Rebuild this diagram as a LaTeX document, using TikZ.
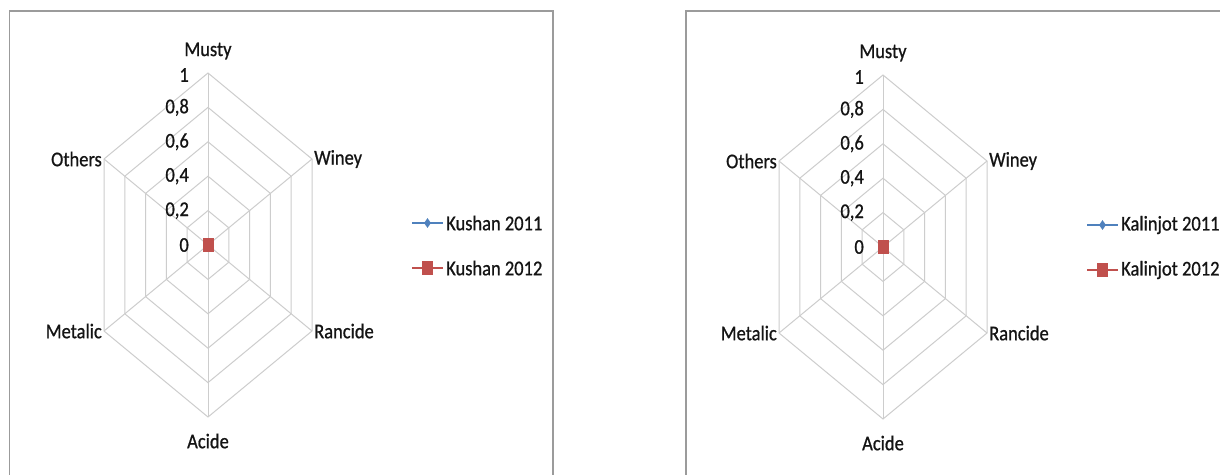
\documentclass[tikz,border=0pt]{standalone}
\usepackage{fontspec}
\setmainfont{Carlito}[FakeStretch=0.88,FakeBold=0.8]
\usetikzlibrary{shapes.geometric,calc}
\definecolor{gridgray}{RGB}{205,205,205}
\definecolor{framegray}{RGB}{155,155,155}
\definecolor{serblue}{RGB}{79,129,189}
\definecolor{serred}{RGB}{192,80,77}
\definecolor{txt}{RGB}{20,20,20}
\tikzset{
  gridline/.style={draw=gridgray, line width=1pt},
  frameline/.style={draw=framegray, line width=1.6pt},
  lbl/.style={font=\fontsize{21}{25}\selectfont, text=txt, inner sep=1pt},
  ticklabel/.style={lbl, anchor=east},
  legtext/.style={lbl, anchor=west},
  redsq/.style={rectangle, fill=serred, minimum width=11pt, minimum height=14pt, inner sep=0pt},
  bluedia/.style={diamond, fill=serblue, minimum width=7pt, minimum height=10pt, inner sep=0pt},
  serline/.style={line width=2.4pt}
}
\newcommand\radarchart[5]{%
  \begin{scope}[shift={(#2,#3)}]
    \coordinate (#1c) at (0,0);
    \coordinate (#1v1) at (0,-172);
    \coordinate (#1v2) at (104,-86);
    \coordinate (#1v3) at (104,86);
    \coordinate (#1v4) at (0,172);
    \coordinate (#1v5) at (-104,86);
    \coordinate (#1v6) at (-104,-86);
    \foreach \r in {0.2,0.4,0.6,0.8,1}{
      \draw[gridline] ($(#1c)!\r!(#1v1)$) -- ($(#1c)!\r!(#1v2)$) -- ($(#1c)!\r!(#1v3)$)
        -- ($(#1c)!\r!(#1v4)$) -- ($(#1c)!\r!(#1v5)$) -- ($(#1c)!\r!(#1v6)$) -- cycle;
    }
    \foreach \i in {1,...,6}{\draw[gridline] (#1c) -- (#1v\i);}
    \node[ticklabel] (#1t0) at (-18,0) {0};
    \node[ticklabel] (#1t2) at (-18,-34.4) {0,2};
    \node[ticklabel] (#1t4) at (-18,-68.8) {0,4};
    \node[ticklabel] (#1t6) at (-18,-103.2) {0,6};
    \node[ticklabel] (#1t8) at (-18,-137.6) {0,8};
    \node[ticklabel] (#1t10) at (-18,-170) {1};
    \node[lbl] (#1musty) at (0,-194) {Musty};
    \node[lbl, anchor=west] (#1winey) at (105,-86) {Winey};
    \node[lbl, anchor=west] (#1rancide) at (105,86) {Rancide};
    \node[lbl] (#1acide) at (0,196) {Acide};
    \node[lbl, anchor=east] (#1metalic) at (-105,86) {Metalic};
    \node[lbl, anchor=east] (#1others) at (-105,-86) {Others};
    \node[redsq] (#1pt) at (#1c) {};
    \coordinate (#1la) at (204,-22);
    \coordinate (#1lb) at (235,-22);
    \coordinate (#1ra) at (204,23);
    \coordinate (#1rb) at (235,23);
    \draw[serline, serblue] (#1la) -- (#1lb);
    \node[bluedia] (#1bm) at ($(#1la)!0.5!(#1lb)$) {};
    \node[legtext] (#1lt1) at (237,-22) {#4};
    \draw[serline, serred] (#1ra) -- (#1rb);
    \node[redsq] (#1rm) at ($(#1ra)!0.5!(#1rb)$) {};
    \node[legtext] (#1lt2) at (237,23) {#5};
  \end{scope}%
}
\begin{document}
\begin{tikzpicture}[x=1pt,y=-1pt]
  \useasboundingbox (0,0) rectangle (1220,474);
  \clip (0,0) rectangle (1220,474);
  \fill[white] (0,0) rectangle (1220,474);
  \draw[frameline] (9.5,500) -- (9.5,11) -- (553,11) -- (553,500);
  \draw[frameline] (686,500) -- (686,11) -- (1240,11);
  \radarchart{a}{208}{245}{Kushan 2011}{Kushan 2012}
  \radarchart{b}{883}{247}{Kalinjot 2011}{Kalinjot 2012}
\end{tikzpicture}
\end{document}
